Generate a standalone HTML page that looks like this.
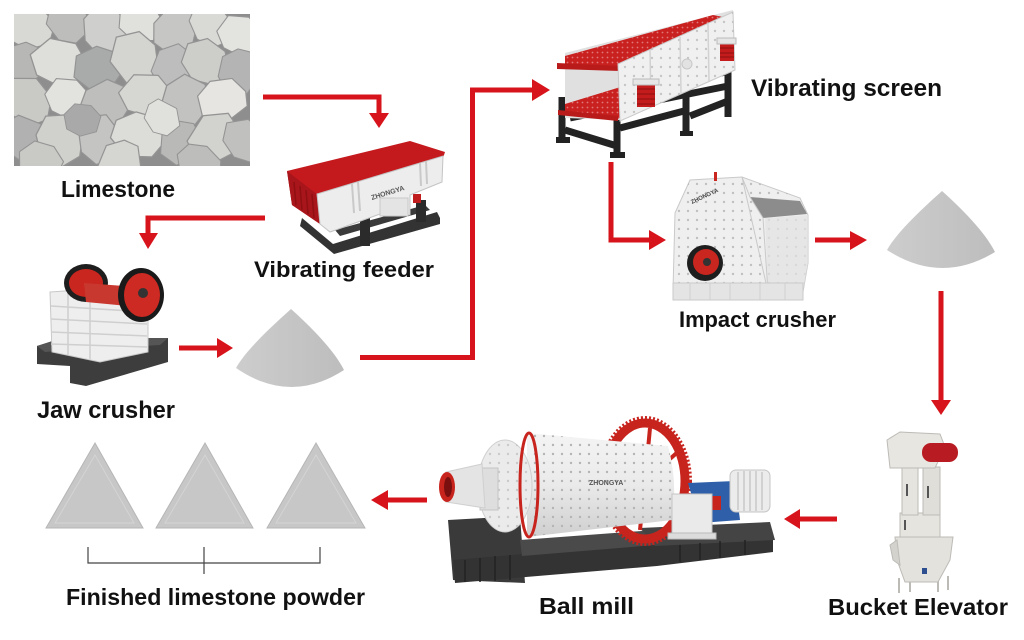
<!DOCTYPE html>
<html><head><meta charset="utf-8">
<style>
html,body{margin:0;padding:0;background:#fff;}
svg{display:block;}
text{font-family:"Liberation Sans",sans-serif;font-weight:bold;fill:#111;}
</style></head>
<body>
<svg width="1024" height="640" viewBox="0 0 1024 640" xmlns="http://www.w3.org/2000/svg">
<defs>
<clipPath id="ph"><rect x="14" y="14" width="236" height="152"/></clipPath>
<path id="r1" d="M-20,-6 L-8,-18 L10,-16 L21,-4 L16,13 L-2,18 L-17,10 Z"/>
<path id="r2" d="M-18,-12 L4,-19 L20,-8 L18,10 L4,18 L-14,14 L-21,0 Z"/>
<path id="r3" d="M-22,2 L-12,-15 L8,-18 L22,-6 L20,8 L6,17 L-12,15 Z"/>
<pattern id="dots" width="9" height="9" patternUnits="userSpaceOnUse">
<circle cx="4" cy="4" r="1.2" fill="#b4b4b4"/>
</pattern>
<pattern id="rdots" width="5" height="5" patternUnits="userSpaceOnUse">
<circle cx="2.5" cy="2.5" r="0.9" fill="#e07a7a"/>
</pattern>
<linearGradient id="pileg" x1="0" x2="1" y1="0" y2="0">
<stop offset="0" stop-color="#cdcdcd"/><stop offset="1" stop-color="#bdbdbd"/>
</linearGradient>
<linearGradient id="cyl" x1="0" x2="0" y1="0" y2="1">
<stop offset="0" stop-color="#f4f4f4"/><stop offset="0.5" stop-color="#eaeaea"/><stop offset="1" stop-color="#cfcfcf"/>
</linearGradient>
</defs>

<!-- Limestone photo -->
<g clip-path="url(#ph)" stroke="#949494" stroke-width="1">
<rect x="14" y="14" width="236" height="152" fill="#8e8e8e" stroke="none"/>
<use href="#r1" transform="translate(30,28) rotate(0) scale(1.2)" fill="#d8d8d4"/>
<use href="#r2" transform="translate(68,22) rotate(40) scale(1.1)" fill="#bdbdbb"/>
<use href="#r3" transform="translate(104,30) rotate(80) scale(1.2)" fill="#cfd0cd"/>
<use href="#r1" transform="translate(140,22) rotate(15) scale(1.1)" fill="#e0e0dc"/>
<use href="#r2" transform="translate(175,30) rotate(120) scale(1.2)" fill="#c6c7c5"/>
<use href="#r3" transform="translate(210,24) rotate(60) scale(1.1)" fill="#d9d9d6"/>
<use href="#r1" transform="translate(240,35) rotate(200) scale(1.1)" fill="#e3e3df"/>
<use href="#r2" transform="translate(22,65) rotate(100) scale(1.1)" fill="#b7b8b6"/>
<use href="#r3" transform="translate(58,62) rotate(20) scale(1.3)" fill="#dededa"/>
<use href="#r1" transform="translate(98,68) rotate(170) scale(1.2)" fill="#a9abab"/>
<use href="#r2" transform="translate(135,58) rotate(250) scale(1.3)" fill="#d4d4d0"/>
<use href="#r3" transform="translate(172,68) rotate(300) scale(1.1)" fill="#bcbdbc"/>
<use href="#r1" transform="translate(205,62) rotate(30) scale(1.2)" fill="#cdcdca"/>
<use href="#r2" transform="translate(238,72) rotate(90) scale(1.1)" fill="#b3b4b3"/>
<use href="#r3" transform="translate(28,100) rotate(60) scale(1.2)" fill="#c9c9c6"/>
<use href="#r1" transform="translate(68,98) rotate(200) scale(1.1)" fill="#e2e2de"/>
<use href="#r2" transform="translate(105,105) rotate(140) scale(1.3)" fill="#bebfbd"/>
<use href="#r3" transform="translate(145,95) rotate(10) scale(1.2)" fill="#d6d6d2"/>
<use href="#r1" transform="translate(185,102) rotate(280) scale(1.3)" fill="#c2c3c1"/>
<use href="#r2" transform="translate(222,100) rotate(160) scale(1.2)" fill="#e6e5e1"/>
<use href="#r3" transform="translate(22,138) rotate(30) scale(1.2)" fill="#b0b1b0"/>
<use href="#r1" transform="translate(60,140) rotate(250) scale(1.3)" fill="#d0d0cc"/>
<use href="#r2" transform="translate(100,140) rotate(70) scale(1.2)" fill="#c4c5c3"/>
<use href="#r3" transform="translate(140,135) rotate(190) scale(1.3)" fill="#dcdcd8"/>
<use href="#r1" transform="translate(180,142) rotate(110) scale(1.1)" fill="#b9bab8"/>
<use href="#r2" transform="translate(215,138) rotate(320) scale(1.3)" fill="#d2d2ce"/>
<use href="#r3" transform="translate(244,140) rotate(50) scale(1.1)" fill="#c0c1bf"/>
<use href="#r1" transform="translate(40,162) rotate(10) scale(1.1)" fill="#c9c9c6"/>
<use href="#r2" transform="translate(120,165) rotate(100) scale(1.2)" fill="#d5d5d1"/>
<use href="#r3" transform="translate(200,165) rotate(220) scale(1.1)" fill="#bdbdbb"/>
<use href="#r1" transform="translate(82,120) rotate(0) scale(0.9)" fill="#a8a9a8"/>
<use href="#r2" transform="translate(162,118) rotate(45) scale(0.9)" fill="#e0e0dc"/>
</g>

<!-- Arrows -->
<g fill="none" stroke="#d7141b" stroke-width="5">
<polyline points="263,97 379,97 379,114"/>
<polyline points="265,218 148,218 148,234"/>
<line x1="179" y1="348" x2="218" y2="348"/>
<polyline points="360,357.5 472.5,357.5 472.5,90 533,90"/>
<polyline points="611,162 611,240 650,240"/>
<line x1="815" y1="240" x2="851" y2="240"/>
<line x1="941" y1="291" x2="941" y2="401"/>
<line x1="837" y1="519" x2="799" y2="519"/>
<line x1="427" y1="500" x2="387" y2="500"/>
</g>
<g fill="#d7141b">
<polygon points="369,113 389,113 379,128"/>
<polygon points="139,233 158,233 148,249"/>
<polygon points="217,338 217,358 233,348"/>
<polygon points="532,79 532,101 550,90"/>
<polygon points="649,230 649,250 666,240"/>
<polygon points="850,231 850,250 867,240"/>
<polygon points="931,400 951,400 941,415"/>
<polygon points="800,509 800,529 784,519"/>
<polygon points="388,490 388,510 371,500"/>
</g>

<!-- Vibrating feeder -->
<g>
<polygon points="302,218 333,244 437,212 440,218 440,224 334,254 300,226" fill="#333"/>
<polygon points="335,230 425,205 430,210 340,236" fill="#3a3a3a"/>
<rect x="360" y="214" width="10" height="32" fill="#2b2b2b"/>
<rect x="416" y="200" width="10" height="22" fill="#2b2b2b"/>
<rect x="358" y="206" width="13" height="12" fill="#c01d1f"/>
<rect x="413" y="194" width="8" height="9" fill="#c01d1f"/>
<polygon points="287,171 410,141 445,152 443,158 318,195 320,224 292,205" fill="#c41a1e"/>
<polygon points="287,171 318,195 320,224 292,205" fill="#a8151a"/>
<g stroke="#8f0f12" stroke-width="1.5">
<line x1="294" y1="182" x2="296" y2="205"/><line x1="300" y1="186" x2="302" y2="210"/>
<line x1="306" y1="190" x2="308" y2="214"/><line x1="312" y1="194" x2="314" y2="218"/>
</g>
<polygon points="317,194 443,156 442,182 410,195 410,215 380,214 330,232 320,224" fill="#ededed" stroke="#c4c4c4"/>
<g stroke="#c9c9c9" stroke-width="2">
<line x1="352" y1="184" x2="354" y2="213"/><line x1="358" y1="182" x2="360" y2="211"/>
<line x1="420" y1="163" x2="421" y2="186"/><line x1="426" y1="161" x2="427" y2="184"/>
</g>
<rect x="380" y="198" width="28" height="18" fill="#e4e4e4" stroke="#c9c9c9"/>
<text x="372" y="200" font-size="7" style="fill:#555" transform="rotate(-17 372 200)">ZHONGYA</text>
</g>

<!-- Jaw crusher -->
<g>
<polygon points="37,346 62,338 168,338 168,362 86,386 70,383 70,366 37,364" fill="#3d3d3d"/>
<polygon points="37,346 62,338 168,338 160,345 70,350 45,352" fill="#555"/>
<polygon points="50,292 110,288 148,300 148,352 100,362 52,352" fill="#eeeeee" stroke="#c8c8c8"/>
<g stroke="#cfcfcf" stroke-width="1.5">
<line x1="51" y1="306" x2="147" y2="312"/><line x1="51" y1="319" x2="147" y2="324"/>
<line x1="51" y1="332" x2="147" y2="336"/><line x1="51" y1="344" x2="147" y2="347"/>
<line x1="68" y1="292" x2="68" y2="355"/><line x1="90" y1="290" x2="90" y2="359"/>
</g>
<ellipse cx="86" cy="283" rx="22" ry="19" fill="#1e1e1e"/>
<ellipse cx="86" cy="283" rx="17" ry="14" fill="#c8261f"/>
<polygon points="84,283 124,286 128,306 86,302" fill="#c9382e"/>
<ellipse cx="141" cy="295" rx="23" ry="27" fill="#1a1a1a"/>
<ellipse cx="142" cy="295" rx="18" ry="22" fill="#cc2a22"/>
<circle cx="143" cy="293" r="5" fill="#333"/>
</g>

<!-- Piles -->
<path d="M291,309 C272,326 246,350 236,368 Q290,405 344,370 C334,350 310,326 291,309 Z" fill="url(#pileg)"/>
<path d="M942,191 C923,208 897,232 887,250 Q941,285 995,252 C985,232 961,208 942,191 Z" fill="url(#pileg)"/>

<!-- Vibrating screen -->
<g>
<g stroke="#232323" stroke-width="7" fill="none">
<line x1="567" y1="104" x2="726" y2="72"/>
<line x1="570" y1="118" x2="728" y2="86"/>
<line x1="562" y1="97" x2="562" y2="141"/>
<line x1="565" y1="130" x2="617" y2="146"/>
<line x1="617" y1="110" x2="617" y2="155"/>
<line x1="620" y1="128" x2="684" y2="111"/>
<line x1="686" y1="93" x2="686" y2="134"/>
<line x1="690" y1="116" x2="728" y2="101"/>
<line x1="728" y1="67" x2="728" y2="117"/>
</g>
<rect x="556" y="137" width="14" height="6" fill="#222"/>
<rect x="610" y="152" width="15" height="6" fill="#222"/>
<rect x="680" y="131" width="13" height="5" fill="#222"/>
<polygon points="565,53 733,10 733,70 620,120 565,118" fill="#e0e0e0"/>
<polygon points="565,56 713,15 728,18 620,68 565,67" fill="#c8211f"/>
<polygon points="565,56 713,15 728,18 620,68 565,67" fill="url(#rdots)"/>
<polygon points="557,63 620,66 620,71 557,69" fill="#b81b1a"/>
<polygon points="565,104 640,81 645,95 618,119 565,113" fill="#c8211f"/>
<polygon points="565,104 640,81 645,95 618,119 565,113" fill="url(#rdots)"/>
<polygon points="558,110 618,116 618,121 558,115" fill="#b81b1a"/>
<polygon points="618,64 733,12 735,70 620,121" fill="#f0f0f0" stroke="#cacaca"/>
<polygon points="618,64 733,12 735,70 620,121" fill="url(#dots)" opacity="0.7"/>
<g stroke="#d2d2d2" stroke-width="1.5">
<line x1="650" y1="50" x2="651" y2="106"/><line x1="680" y1="37" x2="681" y2="93"/>
<line x1="708" y1="24" x2="709" y2="81"/>
</g>
<circle cx="687" cy="64" r="5" fill="#e2e2e2" stroke="#c8c8c8"/>
<rect x="637" y="84" width="18" height="23" fill="#c41c1c"/>
<g stroke="#8c1010" stroke-width="1"><line x1="637" y1="89" x2="655" y2="89"/><line x1="637" y1="94" x2="655" y2="94"/><line x1="637" y1="99" x2="655" y2="99"/><line x1="637" y1="104" x2="655" y2="104"/></g>
<rect x="633" y="79" width="26" height="6" fill="#e6e6e6" stroke="#bbb"/>
<rect x="720" y="43" width="14" height="18" fill="#c41c1c"/>
<g stroke="#8c1010" stroke-width="1"><line x1="720" y1="48" x2="734" y2="48"/><line x1="720" y1="53" x2="734" y2="53"/><line x1="720" y1="57" x2="734" y2="57"/></g>
<rect x="717" y="38" width="19" height="6" fill="#e6e6e6" stroke="#bbb"/>
</g>

<!-- Impact crusher -->
<g>
<polygon points="675,213 690,180 742,177 800,198 808,215 808,263 803,292 673,290" fill="#efefef" stroke="#c9c9c9"/>
<polygon points="675,213 690,180 742,177 800,198 808,215 808,263 803,292 673,290" fill="url(#dots)" opacity="0.8"/>
<polygon points="765,218 808,215 808,263 803,292 768,292" fill="#e2e2e2" opacity="0.7"/>
<polygon points="750,197 800,201 807,214 763,218" fill="#8c8c8c"/>
<polygon points="742,177 750,197 763,218 768,292" fill="none" stroke="#c9c9c9"/>
<rect x="673" y="283" width="130" height="17" fill="#e4e4e4" stroke="#cacaca"/>
<g stroke="#cfcfcf"><line x1="690" y1="283" x2="690" y2="300"/><line x1="710" y1="283" x2="710" y2="300"/><line x1="730" y1="283" x2="730" y2="300"/><line x1="760" y1="283" x2="760" y2="300"/><line x1="785" y1="283" x2="785" y2="300"/></g>
<rect x="714" y="172" width="3" height="9" fill="#c8261f"/>
<circle cx="705" cy="263" r="18" fill="#1e1e1e"/>
<circle cx="706" cy="262" r="13" fill="#c8261f"/>
<circle cx="707" cy="262" r="4" fill="#333"/>
<text x="692" y="204" font-size="6" style="fill:#444" transform="rotate(-25 692 204)">ZHONGYA</text>
</g>

<!-- Ball mill -->
<g>
<polygon points="448,520 520,516 525,583 453,580" fill="#3a3a3a"/>
<polygon points="453,560 653,543 773,538 773,552 657,566 455,583" fill="#333"/>
<polygon points="520,540 655,530 655,545 522,556" fill="#4a4a4a"/>
<polygon points="640,528 770,522 775,540 655,546" fill="#444"/>
<g stroke="#222" stroke-width="1.5">
<line x1="465" y1="560" x2="465" y2="582"/><line x1="480" y1="558" x2="480" y2="582"/><line x1="495" y1="556" x2="495" y2="581"/><line x1="510" y1="555" x2="510" y2="580"/>
<line x1="680" y1="545" x2="680" y2="562"/><line x1="700" y1="543" x2="700" y2="560"/><line x1="720" y1="541" x2="720" y2="558"/><line x1="745" y1="540" x2="745" y2="555"/>
</g>
<ellipse cx="645" cy="481" rx="40" ry="58" fill="none" stroke="#c8241e" stroke-width="9"/>
<ellipse cx="645" cy="481" rx="45" ry="63" fill="none" stroke="#c8241e" stroke-width="4" stroke-dasharray="2 2"/>
<g stroke="#c8241e" stroke-width="4">
<line x1="645" y1="481" x2="680" y2="450"/><line x1="645" y1="481" x2="682" y2="510"/><line x1="645" y1="481" x2="640" y2="530"/><line x1="645" y1="481" x2="650" y2="428"/>
</g>
<path d="M527,433 L668,446 Q678,483 672,520 L527,537 Z" fill="url(#cyl)"/>
<path d="M527,433 L668,446 Q678,483 672,520 L527,537 Z" fill="url(#dots)"/>
<ellipse cx="505" cy="486" rx="27" ry="46" fill="#ebebeb" stroke="#cfcfcf"/>
<ellipse cx="505" cy="486" rx="27" ry="46" fill="url(#dots)" opacity="0.6"/>
<ellipse cx="529" cy="485" rx="9" ry="52" fill="none" stroke="#c8241e" stroke-width="3"/>
<rect x="480" y="468" width="18" height="42" fill="#dedede" stroke="#c4c4c4"/>
<polygon points="446,472 482,464 485,508 446,502" fill="#e4e4e4" stroke="#cfcfcf"/>
<ellipse cx="447" cy="487" rx="8" ry="15" fill="#c8241e"/>
<ellipse cx="448" cy="487" rx="4" ry="10" fill="#7a0f0f"/>
<polygon points="688,483 735,481 740,520 700,523" fill="#2e5fa8"/>
<rect x="712" y="496" width="9" height="14" fill="#c8241e"/>
<rect x="672" y="494" width="40" height="44" fill="#eaeaea" stroke="#c4c4c4"/>
<rect x="668" y="533" width="48" height="6" fill="#dcdcdc" stroke="#bbb"/>
<rect x="730" y="470" width="40" height="42" rx="6" fill="#ececec" stroke="#c4c4c4"/>
<g stroke="#c8c8c8" stroke-width="1.5">
<line x1="738" y1="472" x2="738" y2="510"/><line x1="744" y1="471" x2="744" y2="511"/><line x1="750" y1="471" x2="750" y2="511"/><line x1="756" y1="471" x2="756" y2="511"/><line x1="762" y1="472" x2="762" y2="510"/>
</g>
<text x="589" y="485" font-size="7" style="fill:#555">ZHONGYA</text>
</g>

<!-- Bucket elevator -->
<g stroke="#bdbbb6" stroke-width="1">
<line x1="899" y1="578" x2="899" y2="593" stroke-width="2"/>
<line x1="910" y1="578" x2="910" y2="592" stroke-width="2"/>
<line x1="938" y1="578" x2="938" y2="592" stroke-width="2"/>
<line x1="948" y1="576" x2="948" y2="590" stroke-width="2"/>
<polygon points="895,537 953,537 950,560 938,582 905,582 897,560" fill="#e4e2dd"/>
<polygon points="890,545 897,540 900,565 893,560" fill="#d4d2cd"/>
<rect x="900" y="513" width="40" height="24" fill="#e6e4df"/>
<rect x="902" y="467" width="16" height="48" fill="#e6e4df"/>
<rect x="923" y="467" width="17" height="48" fill="#e0ded9"/>
<polygon points="887,440 900,432 940,434 945,447 935,468 890,468" fill="#e8e6e1"/>
</g>
<rect x="922" y="443" width="36" height="19" rx="9" fill="#b81c22"/>
<rect x="906" y="484" width="2" height="12" fill="#555"/>
<rect x="927" y="486" width="2" height="12" fill="#555"/>
<rect x="904" y="520" width="2" height="10" fill="#555"/>
<rect x="922" y="568" width="5" height="6" fill="#2e4f8f"/>

<!-- Finished powder triangles -->
<g fill="#c7c7c7" stroke="#b6b6b6" stroke-width="1">
<polygon points="95,443 46,528 143,528"/>
<polygon points="205,443 156,528 253,528"/>
<polygon points="316,443 267,528 365,528"/>
</g>
<g fill="none" stroke="#d4d4d4" stroke-width="1">
<polygon points="95,455 55,523 134,523"/>
<polygon points="205,455 165,523 244,523"/>
<polygon points="316,455 276,523 356,523"/>
</g>
<path d="M88,547 V563 H320 V547 M204,547 V574" stroke="#444" stroke-width="1.2" fill="none"/>

<!-- Labels -->
<text x="61" y="197" font-size="23" textLength="114" lengthAdjust="spacingAndGlyphs">Limestone</text>
<text x="254" y="277" font-size="22" textLength="180" lengthAdjust="spacingAndGlyphs">Vibrating feeder</text>
<text x="37" y="418" font-size="24" textLength="138" lengthAdjust="spacingAndGlyphs">Jaw crusher</text>
<text x="751" y="96" font-size="24" textLength="191" lengthAdjust="spacingAndGlyphs">Vibrating screen</text>
<text x="679" y="327" font-size="22" textLength="157" lengthAdjust="spacingAndGlyphs">Impact crusher</text>
<text x="828" y="615" font-size="23" textLength="180" lengthAdjust="spacingAndGlyphs">Bucket Elevator</text>
<text x="539" y="614" font-size="23" textLength="95" lengthAdjust="spacingAndGlyphs">Ball mill</text>
<text x="66" y="605" font-size="23" textLength="299" lengthAdjust="spacingAndGlyphs">Finished limestone powder</text>
</svg>
</body></html>
